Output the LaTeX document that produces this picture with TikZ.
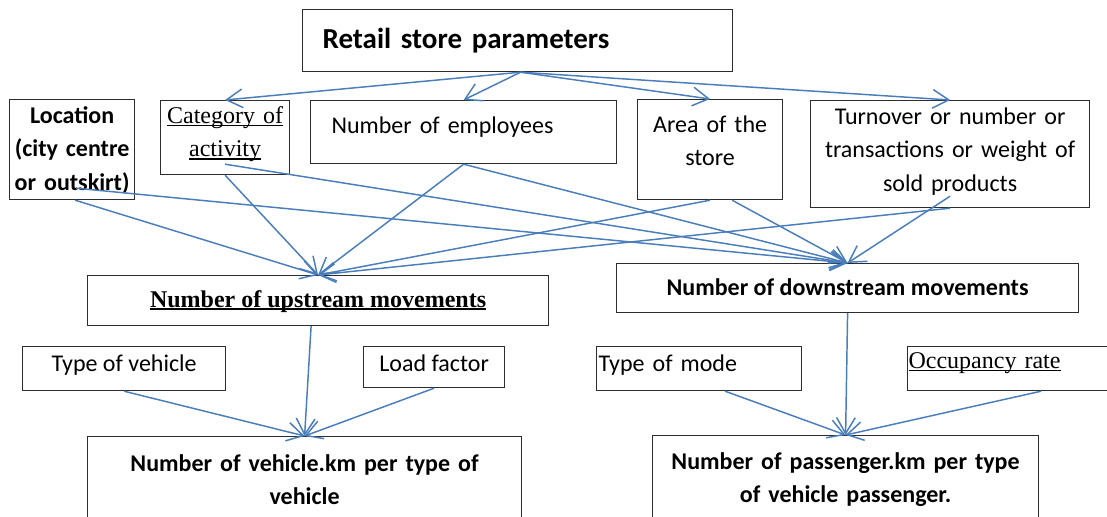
\documentclass[tikz,border=0pt]{standalone}
\usepackage{fontspec}
\setmainfont{Carlito}
\newfontfamily\tnr{Liberation Serif}
\usetikzlibrary{arrows.meta,calc}
\newcommand\myul[2][1pt]{\leavevmode\setbox0\hbox{#2}\rlap{\rule[-2pt]{\wd0}{#1}}\box0}
\definecolor{arr}{RGB}{74,126,187}
\definecolor{frame}{RGB}{45,45,45}
\begin{document}
\begin{tikzpicture}[x=0.75pt,y=-0.75pt,
  box/.style={draw=frame, line width=0.9pt, rectangle, inner sep=0pt, anchor=north west,
    font=\fontsize{18}{25}\selectfont},
  wh/.style 2 args={minimum width=#1*0.75pt, minimum height=#2*0.75pt},
  hd/.style 2 args={text height=#1, text depth=#2},
  con/.style={draw=arr, line width=1.1pt, -{Straight Barb[length=12pt,width=14pt,line width=1.1pt]}}]
\fill[white] (0,0) rectangle (1107,517);
\useasboundingbox (0,0) rectangle (1107,517);
% boxes
\node[box, wh={430}{62}, inner xsep=15pt, text width=292.5pt, align=left,
  font=\fontsize{21.75}{25}\selectfont\bfseries] (top) at (302,9) {Retail store parameters};
\node[box, wh={125}{100}, text width=90pt, align=center, hd={13pt}{52pt}, font=\fontsize{18}{25}\selectfont\bfseries] (loc) at (9,99)
  {Location\\(city centre\\or outskirt)};
\node[box, wh={129}{74}, text width=94pt, align=center, hd={13pt}{34pt}, font=\fontsize{18}{25}\selectfont\tnr] (cat) at (160,100)
  {\myul{Category of}\\\myul{activity}};
\node[box, wh={306}{63}, inner xsep=15.75pt, text width=198pt, align=left, hd={13pt}{10.75pt}] (emp) at (310,100)
  {Number of employees};
\node[box, wh={145}{100}, text width=106pt, align=center, hd={13pt}{38.5pt}] (area) at (637,99)
  {Area of the\\store};
\node[box, wh={279}{107}, text width=205pt, align=center, hd={13pt}{57.2pt}] (turn) at (810,100)
  {Turnover or number or\\transactions or weight of\\sold products};
\node[box, wh={461}{50}, hd={13.5pt}{3pt}, font=\fontsize{18}{25}\selectfont\tnr\bfseries] (up) at (87,275)
  {\myul[1.8pt]{Number of upstream movements}};
\node[box, wh={462}{49}, hd={13pt}{1.75pt}, font=\fontsize{18}{25}\selectfont\bfseries] (down) at (616,263)
  {Number of downstream movements};
\node[box, wh={203}{44}, hd={13pt}{8.5pt}] (tveh) at (22,346) {Type of vehicle};
\node[box, wh={141}{41}, hd={13pt}{6.25pt}] (load) at (363,346) {Load factor};
\node[box, wh={205}{44}, inner xsep=1.5pt, text width=150.75pt, align=left, hd={13pt}{8.5pt}] (tmode) at (596,346) {Type of mode};
\node[box, wh={205}{44}, inner xsep=0.75pt, text width=152.25pt, align=left, hd={13pt}{13pt}, font=\fontsize{18}{25}\selectfont\tnr] (occ) at (907,346)
  {\myul{Occupancy rate}};
\node[box, wh={434}{100}, text width=320pt, align=center, hd={13pt}{36.2pt}, font=\fontsize{18}{25}\selectfont\bfseries] (vkm) at (87,436)
  {Number of vehicle.km per type of\\vehicle};
\node[box, wh={386}{100}, text width=285pt, align=center, hd={13pt}{37pt}, font=\fontsize{18}{25}\selectfont\bfseries] (pkm) at (652,435)
  {Number of passenger.km per type\\of vehicle passenger.};
% connectors from top
\coordinate (src) at ($(top.south)+(3,0)$);
\draw[con] (src) -- (cat.north);
\draw[con] (src) -- (emp.north);
\draw[con] (src) -- (area.north);
\draw[con] (src) -- (turn.north);
% to upstream
\draw[con] ($(loc.south)+(3,0)$) -- (up.north);
\draw[con] (cat.south) -- (up.north);
\draw[con] (emp.south) -- (up.north);
\draw[con] (area.south) -- (up.north);
\draw[con] (turn.south) -- (up.north);
% to downstream
\draw[con] ($(loc.south)+(4,-12)$) -- (down.north);
\draw[con] ($(cat.south)+(0,-11)$) -- (down.north);
\draw[con] (emp.south) -- (down.north);
\draw[con] ($(area.south)+(22,0)$) -- (down.north);
\draw[con] ($(turn.south)+(0,-12)$) -- (down.north);
% lower level
\draw[con] ($(up.south)+(-7,0)$) -- (vkm.north);
\draw[con] (tveh.south) -- (vkm.north);
\draw[con] (load.south) -- (vkm.north);
\draw[con] (down.south) -- (pkm.north);
\draw[con] ($(tmode.south)+(26,0)$) -- (pkm.north);
\draw[con] ($(occ.south)+(31,0)$) -- (pkm.north);
\end{tikzpicture}
\end{document}
